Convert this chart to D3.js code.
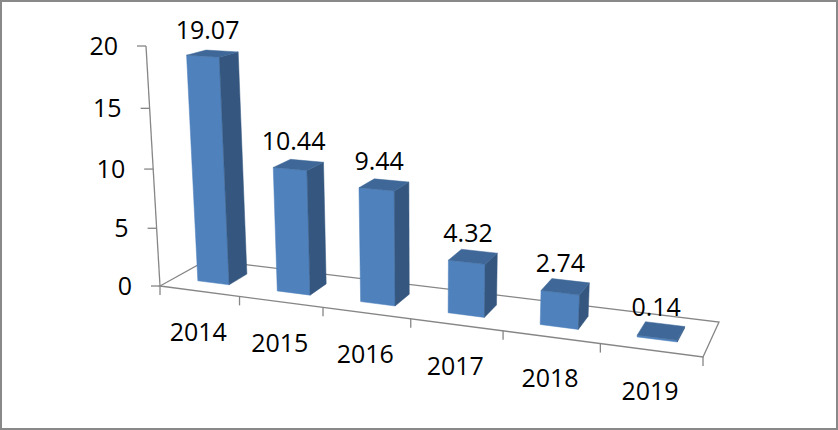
<!DOCTYPE html>
<html>
<head>
<meta charset="utf-8">
<script src="https://cdn.jsdelivr.net/npm/d3@7"></script>
<style>
  body { margin: 0; background: #fff; }
  text { font-family: "Open Sans", sans-serif; font-size: 25px; fill: #000; }
</style>
</head>
<body>
<svg id="chart" width="838" height="430"></svg>
<script>
const categories = ['2014', '2015', '2016', '2017', '2018', '2019']
const values = [19.07, 10.44, 9.44, 4.32, 2.74, 0.14]
const yTicks = [0, 5, 10, 15, 20]

const width = 838, height = 430

// floor corners (front-left, front-right, back-right, back-left) and top of value axis
const floor = { fl: [160, 286], fr: [703, 357], br: [719, 322], bl: [207, 260] }
const axisTop = [146, 46]
const vPersp = -0.05
const depth = [0.3, 0.7]

const colors = { front: '#4f81bd', side: '#35577f', top: '#3f6898', grid: '#868686' }

const x = d3.scaleBand().domain(categories).range([0, 1]).paddingInner(0.6).paddingOuter(0.3)
const y = d3.scaleLinear().domain([0, 20]).range([0, 1])

// unit square -> floor quad
function homography(q) {
  const [x0, y0] = q.fl, [x1, y1] = q.fr, [x2, y2] = q.br, [x3, y3] = q.bl
  const dx1 = x1 - x2, dy1 = y1 - y2, dx2 = x3 - x2, dy2 = y3 - y2
  const sx = x0 - x1 + x2 - x3, sy = y0 - y1 + y2 - y3
  const det = dx1 * dy2 - dx2 * dy1
  const g = (sx * dy2 - dx2 * sy) / det
  const h = (dx1 * sy - sx * dy1) / det
  return {
    a: x1 - x0 + g * x1, b: x3 - x0 + h * x3, c: x0,
    d: y1 - y0 + g * y1, e: y3 - y0 + h * y3, f: y0,
    g: g, h: h
  }
}

const H = homography(floor)
const up = [axisTop[0] * (1 + vPersp) - floor.fl[0], axisTop[1] * (1 + vPersp) - floor.fl[1], vPersp]

function project(u, t, v) {
  const px = H.a * u + H.b * v + H.c + t * up[0]
  const py = H.d * u + H.e * v + H.f + t * up[1]
  const pw = H.g * u + H.h * v + 1 + t * up[2]
  return [px / pw, py / pw]
}

const svg = d3.select('#chart')
const line = d3.line()

svg.append('rect')
  .attr('x', 1).attr('y', 1)
  .attr('width', width - 2).attr('height', height - 2)
  .attr('fill', '#fff')
  .attr('stroke', '#898989')
  .attr('stroke-width', 2)

// floor outline
svg.append('path')
  .attr('d', line([[0, 0], [1, 0], [1, 1], [0, 1]].map(([u, v]) => project(u, 0, v))) + 'Z')
  .attr('fill', 'none')
  .attr('stroke', colors.grid)
  .attr('stroke-width', 1.3)

// value axis
svg.append('path')
  .attr('d', line([project(0, 0, 0), project(0, 1, 0)]))
  .attr('stroke', colors.grid)
  .attr('stroke-width', 1.3)

const yt = svg.selectAll('.ytick')
  .data(yTicks)
  .enter()
  .append('g')
  .attr('class', 'ytick')
  .attr('transform', (d) => `translate(${project(0, y(d), 0)})`)

yt.append('line')
  .attr('x1', -9).attr('x2', 0)
  .attr('stroke', colors.grid)
  .attr('stroke-width', 1.3)

yt.append('text')
  .attr('x', -28)
  .attr('dy', '0.36em')
  .attr('text-anchor', 'end')
  .text((d) => d)

// category ticks on the front edge
const bounds = d3.range(categories.length + 1).map((i) => i * x.step())

svg.selectAll('.xtick')
  .data(bounds)
  .enter()
  .append('line')
  .attr('class', 'xtick')
  .attr('x1', (d) => project(d, 0, 0)[0])
  .attr('x2', (d) => project(d, 0, 0)[0])
  .attr('y1', (d) => project(d, 0, 0)[1])
  .attr('y2', (d) => project(d, 0, 0)[1] + 9)
  .attr('stroke', colors.grid)
  .attr('stroke-width', 1.3)

svg.selectAll('.xlabel')
  .data(categories)
  .enter()
  .append('text')
  .attr('class', 'xlabel')
  .attr('text-anchor', 'middle')
  .attr('x', (d) => project(x(d) + x.bandwidth() / 2, 0, 0)[0] - 1)
  .attr('y', (d) => project(x(d) + x.bandwidth() / 2, 0, 0)[1] + 50)
  .text((d) => d)

// bars
function faces(d, i) {
  const u0 = x(categories[i]), u1 = u0 + x.bandwidth()
  const [v0, v1] = depth
  const t = y(d)
  return [
    { fill: colors.front, pts: [[u0, 0, v0], [u1, 0, v0], [u1, t, v0], [u0, t, v0]] },
    { fill: colors.side, pts: [[u1, 0, v0], [u1, 0, v1], [u1, t, v1], [u1, t, v0]] },
    { fill: colors.top, pts: [[u0, t, v0], [u1, t, v0], [u1, t, v1], [u0, t, v1]] }
  ]
}

const bars = svg.selectAll('.bar')
  .data(values)
  .enter()
  .append('g')
  .attr('class', 'bar')

bars.selectAll('path')
  .data((d, i) => faces(d, i))
  .enter()
  .append('path')
  .attr('d', (f) => line(f.pts.map((p) => project(p[0], p[1], p[2]))) + 'Z')
  .attr('fill', (f) => f.fill)
  .attr('stroke', (f) => f.fill)
  .attr('stroke-width', 0.5)
  .attr('stroke-linejoin', 'round')

svg.selectAll('.vlabel')
  .data(values)
  .enter()
  .append('text')
  .attr('class', 'vlabel')
  .attr('text-anchor', 'middle')
  .attr('x', (d, i) => project(x(categories[i]) + x.bandwidth() / 2, y(d), 0.5)[0] - 5)
  .attr('y', (d, i) => project(x(categories[i]) + x.bandwidth() / 2, y(d), 0.5)[1] - 15)
  .text((d) => d3.format('.2f')(d))
</script>
</body>
</html>
